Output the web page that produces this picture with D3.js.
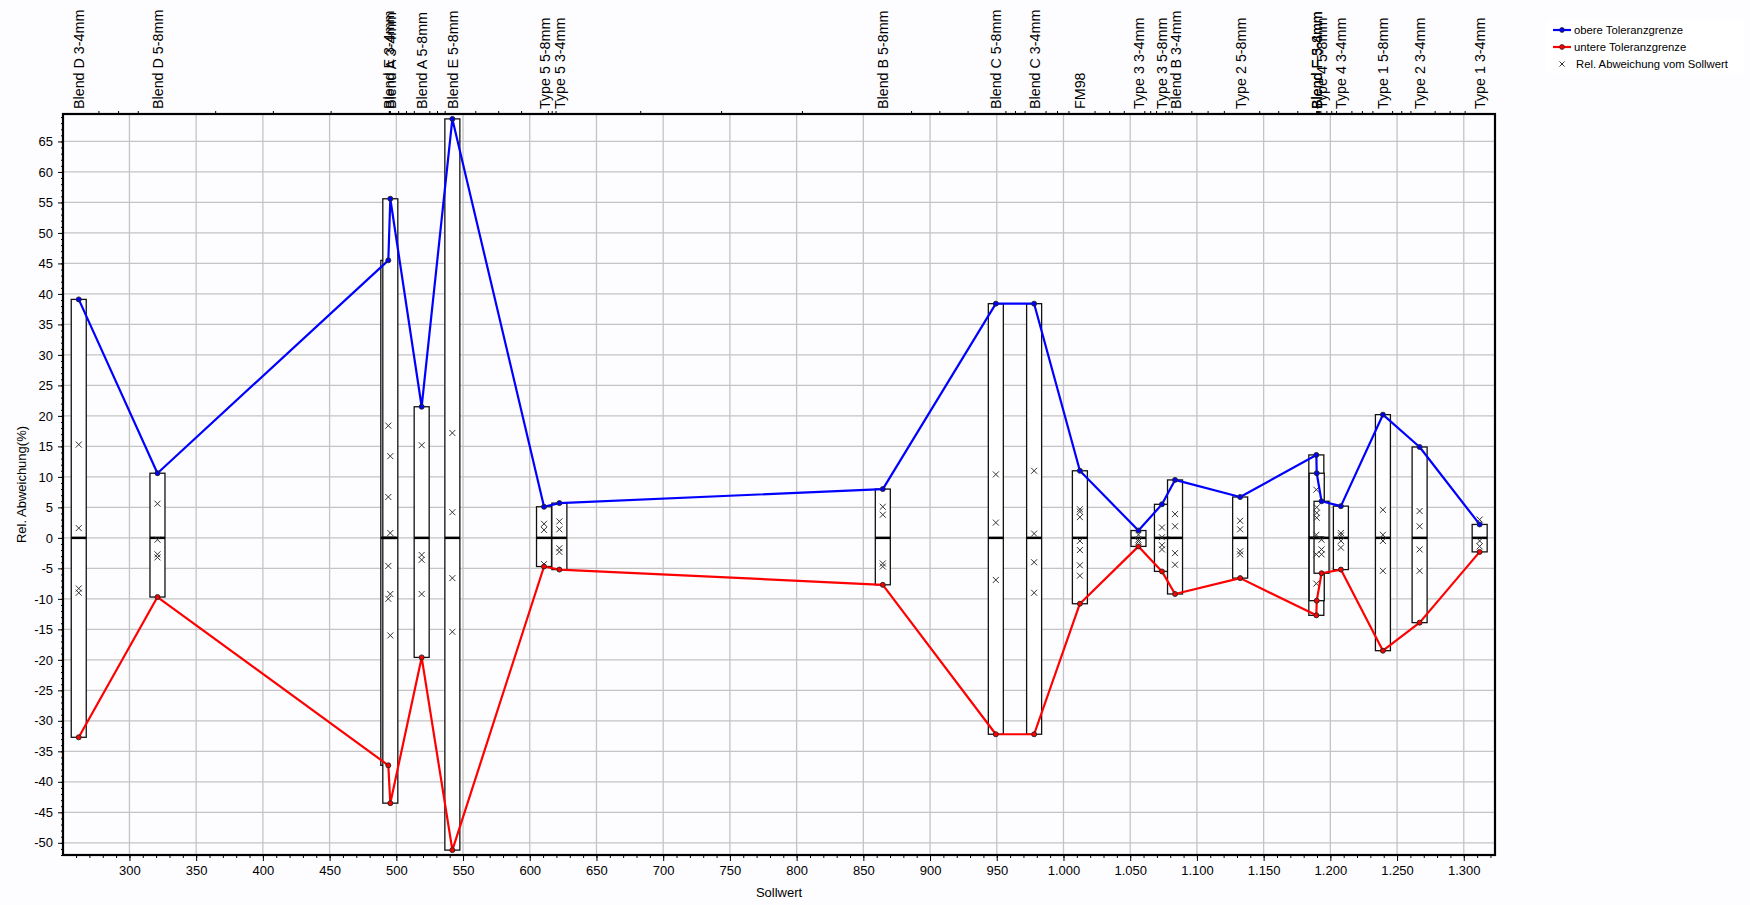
<!DOCTYPE html>
<html><head><meta charset="utf-8">
<script src="https://cdn.jsdelivr.net/npm/d3@7"></script>
<style>
body{margin:0;background:#fdfcff;}
svg{display:block;}
text{font-family:Arial,"Liberation Sans",sans-serif;}
</style>
</head><body>
<svg id="c" width="1750" height="905"></svg>
<script>
// ---------- data ----------
const categories = ["Blend D 3-4mm","Blend D 5-8mm","Blend E 3-4mm","Blend A 3-4mm","Blend A 5-8mm","Blend E 5-8mm",
  "Type 5 5-8mm","Type 5 3-4mm","Blend B 5-8mm","Blend C 5-8mm","Blend C 3-4mm","FM98",
  "Type 3 3-4mm","Type 3 5-8mm","Blend B 3-4mm","Type 2 5-8mm","Blend F 5-8mm","Blend F 3-4mm",
  "Type 4 5-8mm","Type 4 3-4mm","Type 1 5-8mm","Type 2 3-4mm","Type 1 3-4mm"];
const sollwert = [262,321,494,495.5,519,542,610.7,622.2,864.6,949.3,978,1012.3,
  1056.2,1073.8,1083.6,1132.4,1189.5,1189.8,1193.4,1207.9,1239.4,1266.9,1311.9];
const upperTol = [39.1,10.6,45.5,55.6,21.5,68.7,5.1,5.7,8.0,38.4,38.4,11.0,
  1.2,5.5,9.5,6.7,13.6,10.6,6.0,5.2,20.2,14.9,2.2];
const lowerTol = [-32.7,-9.7,-37.3,-43.5,-19.6,-51.2,-4.7,-5.2,-7.7,-32.2,-32.2,-10.8,
  -1.4,-5.5,-9.2,-6.6,-12.7,-10.3,-5.8,-5.2,-18.5,-13.9,-2.3];
const deviations = [
  [15.3,1.6,-8.3,-9.0],
  [5.6,-0.3,-2.7,-3.2],
  [18.4,6.7,-4.6,-10.0],
  [13.4,0.8,-9.2,-16.0],
  [15.2,-2.8,-3.6,-9.2],
  [17.2,4.2,-6.6,-15.4],
  [2.3,1.3,-4.3],
  [2.7,1.4,-1.7,-2.3],
  [5.1,3.8,-4.2,-4.7],
  [10.4,2.5,-6.9],
  [11.0,0.7,-4.0,-9.0],
  [4.7,4.3,3.4,-0.5,-2.0,-4.5,-6.2],
  [0.5,-0.3,-0.6],
  [1.7,0.1,-1.2,-1.9],
  [3.9,1.9,-2.5,-4.4],
  [2.8,1.4,-2.2,-2.7],
  [7.9,0.5,-2.7,-7.5],
  [5.0,4.1,3.3],
  [-0.3,-1.9,-2.7],
  [0.8,0.4,-0.5,-1.6],
  [4.6,0.5,-0.5,-5.4],
  [4.4,1.9,-1.9,-5.4],
  [3.0,-0.5,-1.4]
];
const xTickValues = d3.range(300, 1301, 50);
const yTickValues = d3.range(-50, 66, 5);
const legendLabels = ["obere Toleranzgrenze","untere Toleranzgrenze","Rel. Abweichung vom Sollwert"];
const xTitle = "Sollwert";
const yTitle = "Rel. Abweichung(%)";

// ---------- layout ----------
const P = {l:63, r:1495, t:114, b:855};
const svg = d3.select("#c");
const x = d3.scaleLinear().domain([250.2, 1323.4]).range([P.l, P.r]);
const y = d3.scaleLinear().domain([-52, 69.5]).range([P.b, P.t]);
const fmtX = d => d >= 1000 ? d3.format(",")(d).replace(/,/g, ".") : String(d);
const boxW = 15;

svg.append("rect").attr("width",1750).attr("height",905).attr("fill","#fdfcff");

// gridlines
const grid = svg.append("g").attr("stroke","#c4c4c4").attr("stroke-width",1.3);
grid.selectAll(".gx").data(xTickValues).join("line")
  .attr("x1",d=>x(d)).attr("x2",d=>x(d)).attr("y1",P.t).attr("y2",P.b);
grid.selectAll(".gy").data(yTickValues).join("line")
  .attr("x1",P.l).attr("x2",P.r).attr("y1",d=>y(d)).attr("y2",d=>y(d));

// boxes
const idx = d3.range(categories.length);
const boxes = svg.append("g");
boxes.selectAll("rect").data(idx).join("rect")
  .attr("x",i=>x(sollwert[i]) - boxW/2).attr("width",boxW)
  .attr("y",i=>y(upperTol[i])).attr("height",i=>y(lowerTol[i]) - y(upperTol[i]))
  .attr("fill","#ffffff").attr("stroke","#111").attr("stroke-width",1.3);
boxes.selectAll("line").data(idx).join("line")
  .attr("x1",i=>x(sollwert[i]) - boxW/2).attr("x2",i=>x(sollwert[i]) + boxW/2)
  .attr("y1",y(0)).attr("y2",y(0)).attr("stroke","#000").attr("stroke-width",2.5);

// deviation marks
const marks = [];
idx.forEach(i => deviations[i].forEach(v => marks.push({x:sollwert[i], v})));
const s = 3;
svg.append("g").selectAll("path").data(marks).join("path")
  .attr("d", d => {const cx=x(d.x), cy=y(d.v); return `M${cx-s},${cy-s}L${cx+s},${cy+s}M${cx-s},${cy+s}L${cx+s},${cy-s}`;})
  .attr("stroke","#333").attr("stroke-width",1).attr("fill","none");

// tolerance lines
function drawLine(vals, color){
  const line = d3.line().x(i=>x(sollwert[i])).y(i=>y(vals[i]));
  svg.append("path").datum(idx).attr("d",line).attr("fill","none")
    .attr("stroke",color).attr("stroke-width",2.2).attr("stroke-linejoin","round");
  svg.append("g").selectAll("circle").data(idx).join("circle")
    .attr("cx",i=>x(sollwert[i])).attr("cy",i=>y(vals[i])).attr("r",2.5)
    .attr("fill",color).attr("stroke","#222").attr("stroke-width",0.9);
}
drawLine(upperTol, "#0000ff");
drawLine(lowerTol, "#ff0000");

// axes
function styleAxis(g){ g.select(".domain").remove(); g.selectAll("line").attr("stroke","#000"); g.selectAll("text").attr("font-size",13).attr("fill","#000"); }
svg.append("g").attr("transform",`translate(0,${P.b})`)
  .call(d3.axisBottom(x).tickValues(d3.range(260,1321,10)).tickSize(3).tickFormat("")).call(styleAxis);
svg.append("g").attr("transform",`translate(0,${P.b})`)
  .call(d3.axisBottom(x).tickValues(xTickValues).tickSize(6).tickPadding(5).tickFormat(fmtX)).call(styleAxis);
svg.append("g").attr("transform",`translate(${P.l},0)`)
  .call(d3.axisLeft(y).tickValues(d3.range(-52,70,1)).tickSize(2).tickFormat("")).call(styleAxis);
svg.append("g").attr("transform",`translate(${P.l},0)`)
  .call(d3.axisLeft(y).tickValues(yTickValues).tickSize(5).tickPadding(5).tickFormat(d=>String(d))).call(styleAxis);

// top axis: quarter ticks between categories
const quarter = [];
for (let i=0;i<sollwert.length-1;i++){ for (let k=1;k<4;k++) quarter.push(sollwert[i] + (sollwert[i+1]-sollwert[i])*k/4); }
svg.append("g").attr("transform",`translate(0,${P.t})`)
  .call(d3.axisTop(x).tickValues(quarter).tickSize(3).tickFormat("")).call(styleAxis);
svg.append("g").attr("transform",`translate(0,${P.t})`)
  .call(d3.axisTop(x).tickValues(sollwert).tickSize(0).tickPadding(5).tickFormat((d,i)=>categories[i]))
  .call(styleAxis)
  .call(g => g.selectAll("text").attr("font-size",14.3).attr("text-anchor","start")
     .attr("transform","rotate(-90)").attr("x",5).attr("y",0).attr("dy","0.35em"));

// border
svg.append("rect").attr("x",P.l).attr("y",P.t).attr("width",P.r-P.l).attr("height",P.b-P.t)
  .attr("fill","none").attr("stroke","#000").attr("stroke-width",2.2);

// titles
svg.append("text").attr("x",(P.l+P.r)/2).attr("y",897).attr("text-anchor","middle").attr("font-size",13).text(xTitle);
svg.append("text").attr("transform",`translate(26,${(P.t+P.b)/2}) rotate(-90)`).attr("text-anchor","middle")
  .attr("font-size",13).text(yTitle);

// legend
const lg = svg.append("g");
lg.append("rect").attr("x",1546).attr("y",21).attr("width",198).attr("height",52).attr("fill","#ffffff");
const lcol = ["#0000ff","#ff0000"];
legendLabels.forEach((t,i)=>{
  const ly = 30 + i*17;
  if (i<2){
    lg.append("line").attr("x1",1553).attr("x2",1571).attr("y1",ly).attr("y2",ly).attr("stroke",lcol[i]).attr("stroke-width",2.2);
    lg.append("circle").attr("cx",1562).attr("cy",ly).attr("r",2.4).attr("fill",lcol[i]).attr("stroke","#222").attr("stroke-width",0.8);
  } else {
    lg.append("path").attr("d",`M${1562-2.5},${ly-2.5}L${1562+2.5},${ly+2.5}M${1562-2.5},${ly+2.5}L${1562+2.5},${ly-2.5}`)
      .attr("stroke","#333").attr("stroke-width",1);
  }
  lg.append("text").attr("x",i<2?1574:1576).attr("y",ly).attr("dy","0.35em").attr("font-size",11.3).text(t);
});
</script>
</body></html>
